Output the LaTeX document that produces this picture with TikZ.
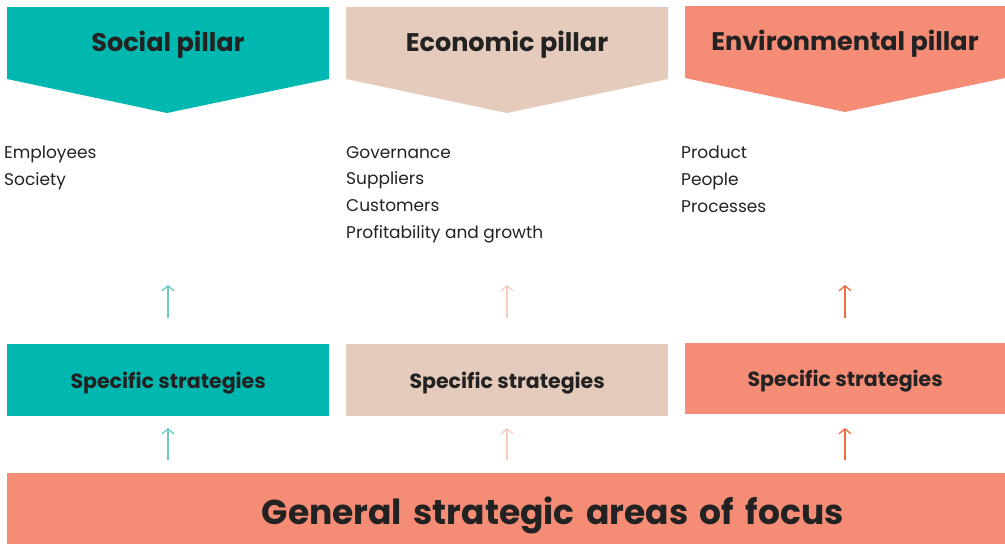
\documentclass[tikz,border=0pt]{standalone}
\usepackage{fontspec}
\setmainfont{Poppins}
\usetikzlibrary{arrows.meta}
\definecolor{teal1}{HTML}{00B8B0}
\definecolor{beige1}{HTML}{E5CBBB}
\definecolor{salmon1}{HTML}{F48C76}
\definecolor{tealarr}{HTML}{6CCAC2}
\definecolor{beigearr}{HTML}{F2CDBD}
\definecolor{salmonarr}{HTML}{EF6A3E}
\definecolor{ink}{HTML}{222222}
\newcommand{\lowered}[2]{\raisebox{-#1}[\height][\depth]{#2}}
\tikzset{
  title/.style={font=\bfseries\fontsize{25.5}{30}\selectfont, text=ink},
  item/.style={font=\fontsize{17}{26.7}\selectfont, text=ink, anchor=north west, align=left, inner sep=0pt},
  stratbox/.style={minimum width=322pt, minimum height=72pt, inner sep=0pt, anchor=north west, font=\bfseries\fontsize{20.5}{24}\selectfont, text=ink},
  uparrow/.style={-{Straight Barb[length=5pt,width=12pt,line width=1.3pt]}, line width=1.3pt},
}
\begin{document}
\begin{tikzpicture}[x=1pt,y=-1pt]
\useasboundingbox (0,0) rectangle (1005,544);
% pillars
\fill[teal1] (7,7) -- (329,7) -- (329,79) -- (167,113) -- (7,79) -- cycle;
\fill[beige1] (346,7) -- (668,7) -- (668,79) -- (507,113) -- (346,79) -- cycle;
\fill[salmon1] (685,6) -- (1005,6) -- (1005,78) -- (845,112) -- (685,78) -- cycle;
\node[title] (t1) at (168,45) {Social pillar};
\node[title] (t2) at (507,45) {Economic pillar};
\node[title] (t3) at (845,44) {Environmental pillar};
% lists
\node[item] (l1) at (4,146) {Employees\\Society};
\node[item] (l2) at (346,146) {Governance\\Suppliers\\Customers\\Profitability and growth};
\node[item] (l3) at (681,146) {Product\\People\\Processes};
% strategy boxes
\node[stratbox, fill=teal1] (s1) at (7,344) {\lowered{2.5pt}{Specific strategies}};
\node[stratbox, fill=beige1] (s2) at (346,344) {\lowered{2.5pt}{Specific strategies}};
\node[stratbox, fill=salmon1, minimum width=320pt, minimum height=71pt] (s3) at (685,343) {\lowered{2.5pt}{Specific strategies}};
% bottom bar
\node[fill=salmon1, minimum width=998pt, minimum height=71pt, inner sep=0pt, anchor=north west, font=\bfseries\fontsize{34.5}{40}\selectfont, text=ink, text width=998pt, align=center] (g) at (7,473) {\hspace*{93pt}\lowered{6.5pt}{General strategic areas of focus}};
% arrows
\coordinate (a1b) at (168,318); \coordinate (a1t) at (168,285);
\coordinate (a2b) at (507,318); \coordinate (a2t) at (507,285);
\coordinate (a3b) at (845,318); \coordinate (a3t) at (845,285);
\draw[uparrow, tealarr] (a1b) -- (a1t);
\draw[uparrow, beigearr] (a2b) -- (a2t);
\draw[uparrow, salmonarr] (a3b) -- (a3t);
\coordinate (b1b) at (168,460); \coordinate (b1t) at (168,428);
\coordinate (b2b) at (507,460); \coordinate (b2t) at (507,428);
\coordinate (b3b) at (845,460); \coordinate (b3t) at (845,428);
\draw[uparrow, tealarr] (b1b) -- (b1t);
\draw[uparrow, beigearr] (b2b) -- (b2t);
\draw[uparrow, salmonarr] (b3b) -- (b3t);
\end{tikzpicture}
\end{document}
